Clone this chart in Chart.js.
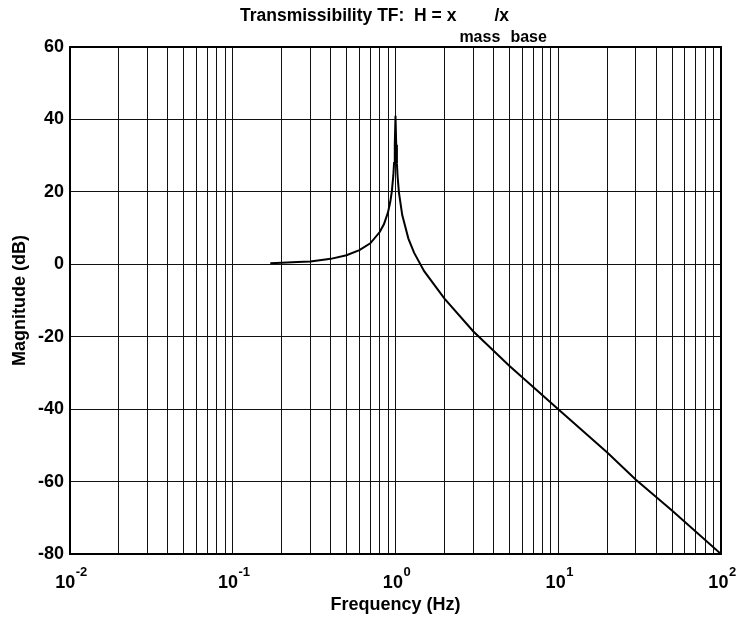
<!DOCTYPE html>
<html>
<head>
<meta charset="utf-8">
<script src="https://cdn.jsdelivr.net/npm/chart.js@4/dist/chart.umd.min.js"></script>
<style>
  html, body { margin: 0; padding: 0; background: #fff; }
  #wrap { width: 738px; height: 619px; }
</style>
</head>
<body>
<div id="wrap"><canvas id="tf"></canvas></div>
<script>
// curve: frequency (Hz) and magnitude (dB)
const freqHz = [0.17, 0.2, 0.25, 0.3, 0.4, 0.5, 0.6, 0.7, 0.8, 0.85, 0.9, 0.93, 0.95, 0.97, 0.98, 0.99, 1.0,
                1.01, 1.02, 1.03, 1.05, 1.1, 1.2, 1.3, 1.5, 2, 3, 5, 10, 20, 30, 50, 100];
const magDb = [0.3, 0.4, 0.6, 0.8, 1.5, 2.5, 3.9, 5.8, 8.9, 11.1, 14.4, 17.4, 20.2, 24.6, 28, 33, 41,
               33, 27.8, 24.3, 19.8, 13.6, 7.1, 3.2, -1.9, -9.5, -18.5, -28, -40, -52, -59.5, -68, -80];

// axis ticks
const xTicks = [0.01, 0.02, 0.03, 0.04, 0.05, 0.06, 0.07, 0.08, 0.09,
                0.1, 0.2, 0.3, 0.4, 0.5, 0.6, 0.7, 0.8, 0.9,
                1, 2, 3, 4, 5, 6, 7, 8, 9,
                10, 20, 30, 40, 50, 60, 70, 80, 90, 100];
const xDecades = [0.01, 0.1, 1, 10, 100];
const xDecadeExp = ['-2', '-1', '0', '1', '2'];
const yTicks = [-80, -60, -40, -20, 0, 20, 40, 60];

const FONT = "'Liberation Sans', Arial, Helvetica, sans-serif";

// frame, 10^n tick labels with real superscripts, title with subscripts
const framePlugin = {
    id: 'frame',
    afterDraw(chart) {
        const { ctx, chartArea: a } = chart;
        const xs = chart.scales.x;
        ctx.save();
        ctx.strokeStyle = '#000';
        ctx.lineWidth = 2;
        ctx.strokeRect(a.left, a.top, a.right - a.left, a.bottom - a.top);

        ctx.fillStyle = '#000';
        ctx.textBaseline = 'alphabetic';
        ctx.textAlign = 'left';
        xDecades.forEach((v, i) => {
            ctx.font = 'bold 18px ' + FONT;
            const wb = ctx.measureText('10').width;
            ctx.font = 'bold 13px ' + FONT;
            const we = ctx.measureText(xDecadeExp[i]).width;
            const px = xs.getPixelForValue(v) - (wb + we) / 2 + 1;
            ctx.font = 'bold 18px ' + FONT;
            ctx.fillText('10', px, 588);
            ctx.font = 'bold 13px ' + FONT;
            ctx.fillText(xDecadeExp[i], px + wb + 0.5, 576);
        });

        ctx.font = 'bold 17.5px ' + FONT;
        const main = 'Transmissibility TF:  H = x';
        const x0 = 240;
        ctx.fillText(main, x0, 21);
        const w = ctx.measureText(main).width;
        ctx.fillText('/x', x0 + w + 38, 21);
        ctx.font = 'bold 16px ' + FONT;
        ctx.fillText('mass', x0 + w + 3, 42);
        ctx.fillText('base', x0 + w + 54, 42);
        ctx.restore();
    }
};

new Chart(document.getElementById('tf'), {
    type: 'line',
    data: {
        datasets: [{
            data: freqHz.map((f, i) => ({ x: f, y: magDb[i] })),
            borderColor: '#000',
            borderWidth: 2,
            pointRadius: 0,
            tension: 0,
            fill: false
        }]
    },
    options: {
        responsive: true,
        maintainAspectRatio: false,
        animation: false,
        layout: { padding: { top: 47, right: 17, left: 0, bottom: 0 } },
        plugins: {
            legend: { display: false },
            tooltip: { enabled: false }
        },
        scales: {
            x: {
                type: 'logarithmic',
                min: 0.01,
                max: 100,
                afterBuildTicks: s => { s.ticks = xTicks.map(v => ({ value: v })); },
                afterFit: s => { s.height = 65; },
                ticks: {
                    autoSkip: false,
                    maxRotation: 0,
                    callback: () => ''
                },
                grid: { color: '#111', lineWidth: 1, drawTicks: false },
                border: { display: true, color: '#000', width: 2 },
                title: {
                    display: true,
                    text: 'Frequency (Hz)',
                    color: '#000',
                    font: { family: FONT, size: 18, weight: 'bold' },
                    padding: { top: 0, bottom: 3 }
                }
            },
            y: {
                min: -80,
                max: 60,
                afterBuildTicks: s => { s.ticks = yTicks.map(v => ({ value: v })); },
                afterFit: s => { s.width = 70; },
                ticks: {
                    padding: 6,
                    color: '#000',
                    font: { family: FONT, size: 18, weight: 'bold' }
                },
                grid: { color: '#111', lineWidth: 1, drawTicks: false },
                border: { display: true, color: '#000', width: 2 },
                title: {
                    display: true,
                    text: 'Magnitude (dB)',
                    color: '#000',
                    font: { family: FONT, size: 18, weight: 'bold' },
                    padding: { top: 9, bottom: 0 }
                }
            }
        }
    },
    plugins: [framePlugin]
});
</script>
</body>
</html>
